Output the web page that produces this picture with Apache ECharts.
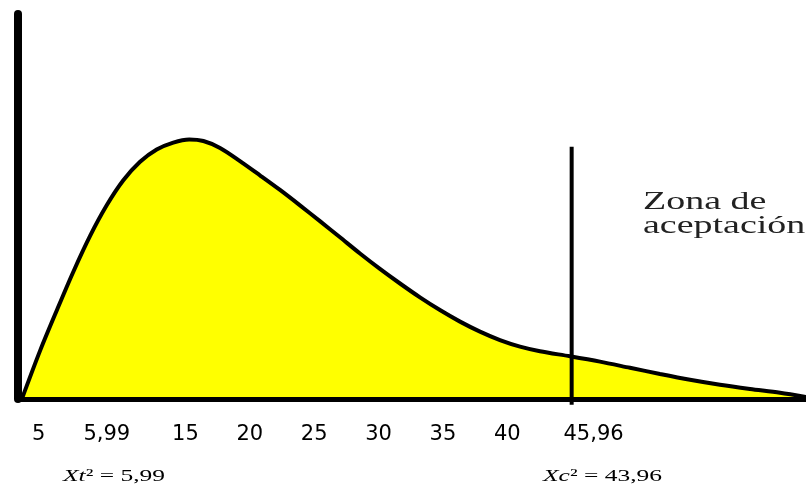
<!DOCTYPE html>
<html><head><meta charset="utf-8">
<script src="https://cdn.jsdelivr.net/npm/echarts@6/dist/echarts.min.js"></script>
<style>html,body{margin:0;padding:0;background:#fff}#c{width:806px;height:487px}</style>
</head><body><div id="c"></div>
<script>
// Curve (schematic chi-square density)
const curveX = [2.3, 3.71, 5.01, 6.29, 7.59, 8.89, 10.18, 11.48, 12.77, 14.06, 15.3, 16.4, 17.69, 19.24, 20.79, 22.35, 23.9, 25.45, 27.01, 28.56, 30.11, 31.67, 33.22, 34.77, 36.33, 37.88, 39.43, 40.99, 42.54, 44.87, 47.2, 49.53, 51.86, 54.19, 56.52, 58.85, 61.18, 63.2];
const curveY = [0, 12.5, 23.0, 33.0, 42.3, 50.3, 56.8, 61.6, 64.8, 66.6, 67.4, 67.0, 65.2, 61.8, 58.1, 54.3, 50.3, 46.2, 42.0, 37.8, 33.8, 30.0, 26.4, 23.1, 20.1, 17.5, 15.3, 13.6, 12.4, 11.1, 9.7, 8.1, 6.5, 5.0, 3.7, 2.6, 1.6, 0.5];
// Tick labels (the axis is schematic, labels are not to scale)
const tickValues = [3.6, 8.9, 15, 20, 25, 30, 35, 40, 46.7];
const tickLabels = ['5', '5,99', '15', '20', '25', '30', '35', '40', '45,96'];
// Critical value line
const criticalX = [45, 45];
const criticalY = [-1.5, 65.5];
const zoneText = 'Zona de\naceptación';
const tabText = ['Xt', '² = 5,99'];
const calcText = ['Xc', '² = 43,96'];

const chart = echarts.init(document.getElementById('c'), null, {renderer: 'canvas'});
const mathRich = {
  i: {fontFamily: 'Liberation Serif', fontStyle: 'italic', fontSize: 17, fill: '#000', color: '#000'},
  n: {fontFamily: 'Liberation Serif', fontSize: 17, fill: '#000', color: '#000'}
};
chart.setOption({
  animation: false,
  backgroundColor: '#fff',
  grid: {left: 18, right: 0, top: 14, bottom: 88, containLabel: false, outerBoundsMode: 'none'},
  xAxis: {
    type: 'value', min: 2, max: 63.2, z: 5,
    axisLine: {show: true, onZero: false, lineStyle: {color: '#000', width: 5, cap: 'square'}},
    axisTick: {show: false},
    splitLine: {show: false},
    axisLabel: {
      customValues: tickValues,
      formatter: v => { const i = tickValues.findIndex(t => Math.abs(t - v) < 1e-6); return i >= 0 ? tickLabels[i] : ''; },
      fontFamily: 'DejaVu Sans', fontSize: 21, color: '#000', margin: 25
    }
  },
  yAxis: {
    type: 'value', min: 0, max: 100, z: 5,
    axisLine: {show: true, lineStyle: {color: '#000', width: 8}},
    axisTick: {show: false},
    axisLabel: {show: false},
    splitLine: {show: false}
  },
  series: [
    {
      type: 'line',
      data: curveX.map((x, i) => [x, curveY[i]]),
      smooth: 0.3,
      symbol: 'none',
      lineStyle: {color: '#000', width: 4},
      areaStyle: {color: '#FFFF00', opacity: 1},
      z: 2
    },
    {
      type: 'line',
      data: criticalX.map((x, i) => [x, criticalY[i]]),
      symbol: 'none',
      clip: false,
      lineStyle: {color: '#000', width: 4},
      z: 3
    }
  ],
  graphic: [
    {type: 'text', x: 643, y: 190, scaleX: 1.46, z: 10,
     style: {text: zoneText, fontFamily: 'Liberation Serif', fontSize: 26, lineHeight: 24, fill: '#222'}},
    {type: 'text', x: 63, y: 468, scaleX: 1.5, z: 10,
     style: {text: '{i|' + tabText[0] + '}{n|' + tabText[1] + '}', rich: mathRich, fill: '#000'}},
    {type: 'text', x: 543, y: 468, scaleX: 1.5, z: 10,
     style: {text: '{i|' + calcText[0] + '}{n|' + calcText[1] + '}', rich: mathRich, fill: '#000'}}
  ]
});
</script>
</body></html>
